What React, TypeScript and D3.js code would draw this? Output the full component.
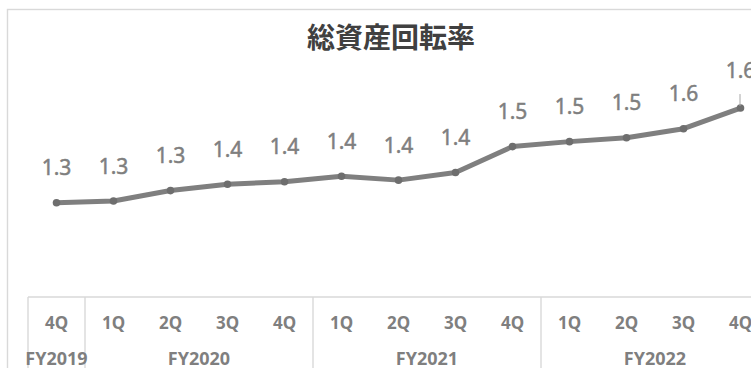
import React from "react";
import * as d3 from "d3";

const quarters = ["4Q", "1Q", "2Q", "3Q", "4Q", "1Q", "2Q", "3Q", "4Q", "1Q", "2Q", "3Q", "4Q"];
const fiscalYears = ["FY2019", "FY2020", "FY2021", "FY2022"];
const quartersPerYear = [1, 4, 4, 4];
const turnover = [1.293, 1.299, 1.337, 1.36, 1.369, 1.389, 1.375, 1.403, 1.497, 1.515, 1.529, 1.562, 1.637];
const title = "総資産回転率";

const W = 751;
const H = 368;

export default function App() {
  const axisY = 297;
  const x0 = 28;
  const step = 57;
  const x = d3
    .scaleBand<number>()
    .domain(quarters.map((_, i) => i))
    .range([x0, x0 + step * quarters.length])
    .paddingInner(0)
    .paddingOuter(0);
  const y = d3.scaleLinear().domain([0.95, 1.7]).range([axisY, 90.75]);
  const cx = (i: number) => (x(i) as number) + x.bandwidth() / 2;

  const line = d3
    .line<number>()
    .x((_, i) => cx(i))
    .y((d) => y(d));

  const bounds: number[] = [0];
  quartersPerYear.forEach((n) => bounds.push(bounds[bounds.length - 1] + n));
  const boundX = (k: number) => x0 + step * k;

  const grid = "#d9d9d9";
  const labelColor = "#7f7f7f";
  const last = turnover.length - 1;

  return (
    <svg
      width={W}
      height={H}
      style={{ position: "absolute", left: 0, top: 0, background: "#fff" }}
    >
      <rect x={0} y={0} width={W} height={H} fill="#fff" />
      <rect x={7.5} y={9.5} width={900} height={500} fill="#fff" stroke={grid} strokeWidth={1.4} />
      <text
        x={391}
        y={36}
        textAnchor="middle"
        dominantBaseline="central"
        fontFamily="'Noto Sans CJK JP', 'Noto Sans', sans-serif"
        fontWeight="bold"
        fontSize={28}
        fill="#404040"
      >
        {title}
      </text>

      <line x1={x0} x2={W + 10} y1={axisY} y2={axisY} stroke={grid} strokeWidth={1.4} />
      {bounds.map((b, k) => (
        <line key={k} x1={boundX(b)} x2={boundX(b)} y1={axisY} y2={H + 10} stroke={grid} strokeWidth={1.4} />
      ))}

      {quarters.map((q, i) => (
        <text
          key={i}
          x={cx(i)}
          y={322}
          textAnchor="middle"
          dominantBaseline="central"
          fontFamily="'Noto Sans', sans-serif"
          fontWeight="bold"
          fontSize={17}
          fill={labelColor}
        >
          {q}
        </text>
      ))}
      {fiscalYears.map((fy, k) => (
        <text
          key={fy}
          x={(boundX(bounds[k]) + boundX(bounds[k + 1])) / 2}
          y={357.5}
          textAnchor="middle"
          dominantBaseline="central"
          fontFamily="'Noto Sans', sans-serif"
          fontWeight="bold"
          fontSize={18}
          fill={labelColor}
        >
          {fy}
        </text>
      ))}

      <path d={line(turnover) || ""} fill="none" stroke="#7f7f7f" strokeWidth={5} strokeLinejoin="round" />
      {turnover.map((v, i) => (
        <circle key={i} cx={cx(i)} cy={y(v)} r={3.8} fill="#6e6e6e" />
      ))}

      {turnover.map((v, i) => {
        const isLast = i === last;
        const by = y(v) - 27.5 - (isLast ? 2.5 : 0);
        return (
          <text
            key={i}
            x={cx(i)}
            y={by}
            textAnchor="middle"
            fontFamily="'Noto Sans', sans-serif"
            fontSize={21}
            fill={labelColor}
            stroke={labelColor}
            strokeWidth={0.5}
          >
            {d3.format(".1f")(v)}
          </text>
        );
      })}
      <line
        x1={cx(last) - 0.5}
        x2={cx(last) - 0.5}
        y1={y(turnover[last]) - 14}
        y2={y(turnover[last]) - 2}
        stroke="#a6a6a6"
        strokeWidth={1}
      />
    </svg>
  );
}
